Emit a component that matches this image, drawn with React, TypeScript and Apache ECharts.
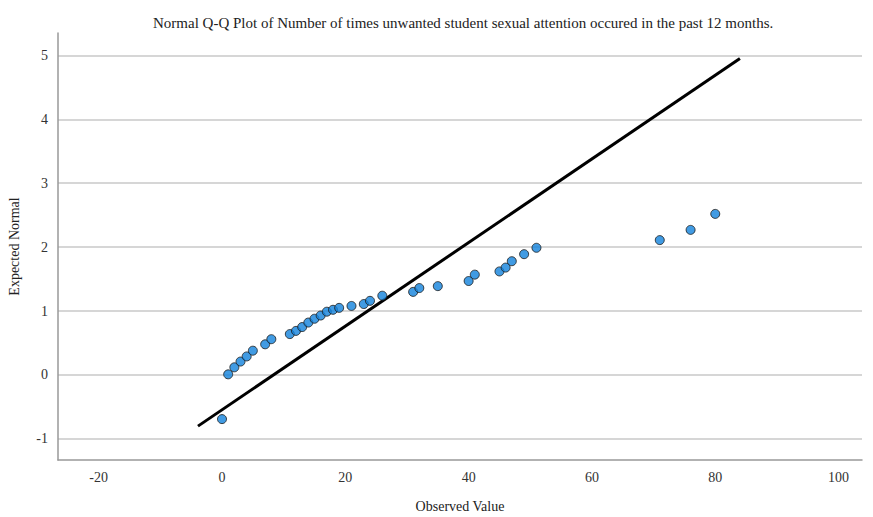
import React, { useEffect, useRef } from "react";
import * as echarts from "echarts";

// Observed values and their expected normal quantiles
const observed = [0, 1, 2, 3, 4, 5, 7, 8, 11, 12, 13, 14, 15, 16, 17, 18, 19, 21, 23, 24, 26, 31, 32, 35, 40, 41, 45, 46, 47, 49, 51, 71, 76, 80];
const expectedNormal = [-0.69, 0.01, 0.12, 0.21, 0.29, 0.38, 0.48, 0.56, 0.64, 0.69, 0.75, 0.82, 0.88, 0.93, 0.99, 1.02, 1.05, 1.08, 1.11, 1.16, 1.24, 1.3, 1.36, 1.39, 1.47, 1.57, 1.62, 1.68, 1.78, 1.89, 1.99, 2.11, 2.27, 2.52];

// Reference line endpoints (normal distribution fit)
const lineX = [-3.9, 84];
const lineY = [-0.8, 4.95];

const title = "Normal Q-Q Plot of Number of times unwanted student sexual attention occured in the past 12 months.";
const xTitle = "Observed Value";
const yTitle = "Expected Normal";

const FONT = "'Liberation Serif', 'Times New Roman', serif";

export default function App() {
  const ref = useRef<HTMLDivElement>(null);

  useEffect(() => {
    if (!ref.current) return;
    const chart = echarts.init(ref.current, null, { renderer: "svg" });
    chart.setOption({
      animation: false,
      backgroundColor: "#ffffff",
      title: {
        text: title,
        left: 148,
        top: 10,
        textStyle: { fontFamily: FONT, fontSize: 15, fontWeight: "normal", color: "#222" },
      },
      grid: { left: 58, right: 11, top: 33, bottom: 57, outerBoundsMode: "none", containLabel: false },
      xAxis: {
        type: "value",
        min: -26.6,
        max: 103.8,
        splitNumber: 7,
        name: xTitle,
        nameLocation: "middle",
        nameGap: 39,
        nameTextStyle: { fontFamily: FONT, fontSize: 14, color: "#222" },
        axisLine: { show: true, onZero: false, lineStyle: { color: "#999", width: 1.5 } },
        axisTick: { show: false },
        splitLine: { show: false },
        axisLabel: {
          fontFamily: FONT,
          fontSize: 14,
          color: "#333",
          margin: 10,
          showMinLabel: false,
          showMaxLabel: false,
          formatter: (v: number) => (Math.abs(v % 20) < 1e-6 ? String(v) : ""),
        },
      },
      yAxis: {
        type: "value",
        min: -1.33,
        max: 5.35,
        splitNumber: 7,
        name: yTitle,
        nameLocation: "middle",
        nameGap: 37,
        nameRotate: 90,
        nameTextStyle: { fontFamily: FONT, fontSize: 14, color: "#222" },
        axisLine: { show: true, onZero: false, lineStyle: { color: "#999", width: 1.5 } },
        axisTick: { show: false },
        splitLine: { show: true, showMinLine: false, showMaxLine: false, lineStyle: { color: "#d6d6d6", width: 2 } },
        axisLabel: {
          fontFamily: FONT,
          fontSize: 14,
          color: "#333",
          margin: 10,
          showMinLabel: false,
          showMaxLabel: false,
          formatter: (v: number) => (Math.abs(v % 1) < 1e-6 ? String(v) : ""),
        },
      },
      series: [
        {
          type: "line",
          data: lineX.map((x, i) => [x, lineY[i]]),
          symbol: "none",
          lineStyle: { color: "#000", width: 3 },
          z: 2,
        },
        {
          type: "scatter",
          data: observed.map((x, i) => [x, expectedNormal[i]]),
          symbol: "circle",
          symbolSize: 9,
          itemStyle: { color: "#1282dc", borderColor: "#1b1b1b", borderWidth: 1 },
          z: 3,
        },
      ],
    });
    return () => chart.dispose();
  }, []);

  return <div ref={ref} style={{ position: "fixed", left: 0, top: 0, width: 873, height: 517 }} />;
}
